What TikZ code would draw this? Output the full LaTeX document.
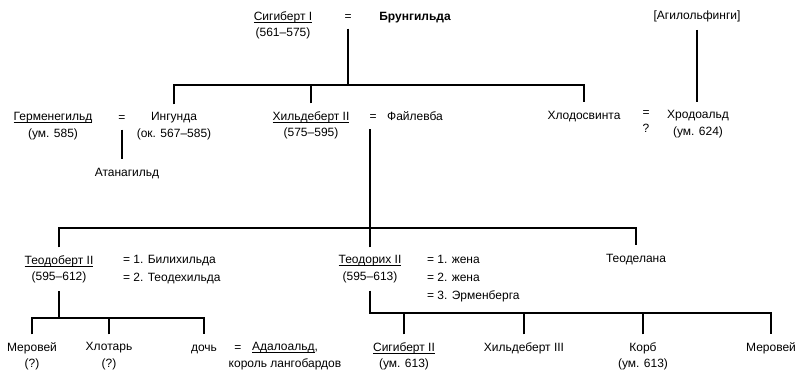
\documentclass[tikz,border=0pt]{standalone}
\usepackage{fontspec}
\setmainfont{Liberation Sans}
\newcommand{\uname}[1]{\setbox0=\hbox{#1}\rlap{\rule[-2.2pt]{\wd0}{0.7pt}}\box0}
\tikzset{
  pers/.style={align=center, anchor=north, inner sep=1pt, outer xsep=0pt, outer ysep=7pt,
    execute at begin node=\rule{0pt}{9.2pt}, font=\fontsize{12}{16.5}\selectfont},
  wives/.style={pers, align=left, anchor=north west, font=\fontsize{12}{18}\selectfont},
  tline/.style={line width=1.3pt}
}
\begin{document}
\begin{tikzpicture}[x=1pt,y=-1pt]
			%%%%% START %%%%%
			\useasboundingbox (0,0) rectangle (800,384);
			
			\node[pers] (sig1) at (283, 3.3) {\uname{Сигиберт I}\\(561–575)};
			\node[pers] (eq1) at (348, 3.3) {=};
			\node[pers] (brun) at (415, 3.3) {\bfseries Брунгильда};
			\node[pers] (agil) at (697, 2.3) {[Агилольфинги]};
			
			\node[pers] (germ) at (53, 104.3) {\uname{Герменегильд}\\(ум. 585)};
			\node[pers] (eq2) at (122, 104.3) {=};
			\node[pers] (ingunda) at (174, 104.3) {Ингунда\\(ок. 567–585)};
			\node[pers] (atan) at (127, 159.3) {Атанагильд};
			\node[pers] (hild2) at (311, 103.3) {\uname{Хильдеберт II}\\(575–595)};
			\node[pers] (eq3) at (373, 103.3) {=};
			\node[pers] (fail) at (415, 103.3) {Файлевба};
			\node[pers] (chlod) at (584, 102.3) {Хлодосвинта};
			\node[pers] (eq4) at (646, 102.3) {=\\?};
			\node[pers] (chrod) at (698, 102.3) {Хродоальд\\(ум. 624)};
			
			\node[pers] (teodob) at (59, 247.3) {\uname{Теодоберт II}\\(595–612)};
			\node[wives] (wives1) at (122, 247.3) {= 1. Билихильда\\= 2. Теодехильда};
			\node[pers] (teodor) at (370, 247.3) {\uname{Теодорих II}\\(595–613)};
			\node[wives] (wives2) at (426, 247.3) {= 1. жена\\= 2. жена\\= 3. Эрменберга};
			\node[pers] (teodel) at (636, 245.3) {Теоделана};
			
			\node[pers] (merov1) at (32, 334.3) {Меровей\\(?)};
			\node[pers] (chlot) at (109, 334.3) {Хлотарь\\(?)};
			\node[pers] (doch) at (204, 334.3) {дочь};
			\node[pers] (eq5) at (238, 334.3) {=};
			\node[pers] (adal) at (285, 334.3) {\uname{Адалоальд},\\король лангобардов};
			\node[pers] (sig2) at (404, 334.3) {\uname{Сигиберт II}\\(ум. 613)};
			\node[pers] (hild3) at (524, 334.3) {Хильдеберт III};
			\node[pers] (korb) at (643, 334.3) {Корб\\(ум. 613)};
			\node[pers] (merov2) at (771, 334.3) {Меровей};
			
			\coordinate (bar1) at (0, 85);
			\coordinate (bar2) at (0, 228);
			\coordinate (bar3) at (0, 318);
			\coordinate (bar4) at (0, 313);
			
			\draw[tline] (eq1.south) -- (eq1.south |- bar1);
			\draw[tline] (ingunda.north) |- (chlod.north |- bar1) -- (chlod.north);
			\draw[tline] (hild2.north) -- (hild2.north |- bar1);
			\draw[tline] (agil.south) -- (agil.south |- chrod.north);
			\draw[tline] (eq2.south) -- (eq2.south |- atan.north);
			
			\draw[tline] (teodor.north) -- (teodor.north |- eq3.south);
			\draw[tline] (teodob.north) |- (teodel.north |- bar2) -- (teodel.north);
			
			\draw[tline] (teodob.south) -- (teodob.south |- bar3);
			\draw[tline] (merov1.north) |- (doch.north |- bar3) -- (doch.north);
			\draw[tline] (chlot.north) -- (chlot.north |- bar3);
			
			\draw[tline] (teodor.south) |- (merov2.north |- bar4) -- (merov2.north);
			\draw[tline] (sig2.north) -- (sig2.north |- bar4);
			\draw[tline] (hild3.north) -- (hild3.north |- bar4);
			\draw[tline] (korb.north) -- (korb.north |- bar4);
			
			%%%%% END %%%%%
\end{tikzpicture}
\end{document}
